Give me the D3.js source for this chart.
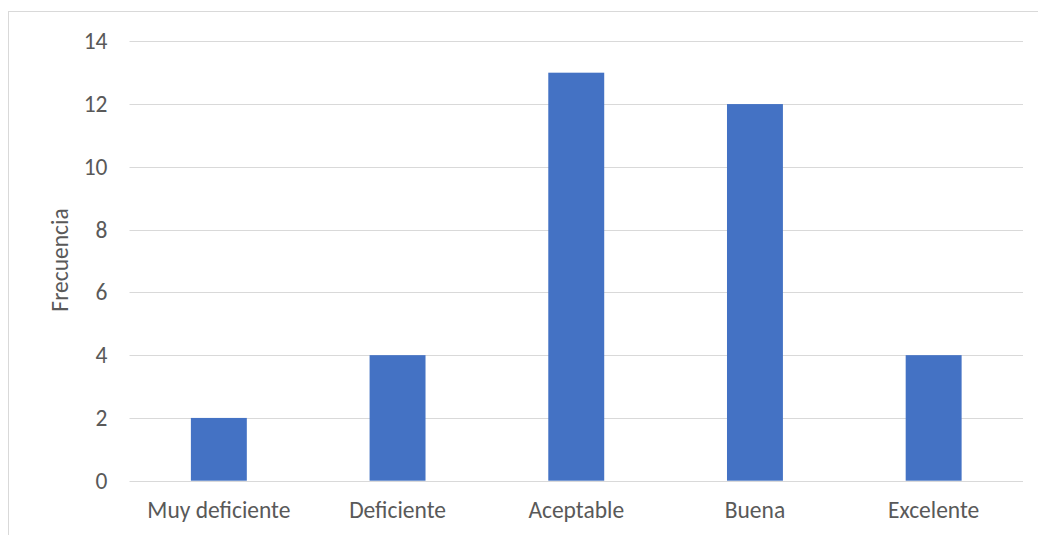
<!DOCTYPE html>
<html>
<head>
<meta charset="utf-8">
<script src="https://cdn.jsdelivr.net/npm/d3@7"></script>
<style>
html,body{margin:0;padding:0;background:#fff;}
svg{display:block;}
text{font-family:Carlito,"Open Sans","Liberation Sans",sans-serif;fill:#595959;}
</style>
</head>
<body>
<svg id="chart" width="1038" height="535"></svg>
<script>
const categories = ["Muy deficiente","Deficiente","Aceptable","Buena","Excelente"];
const values = [2,4,13,12,4];
const yTicks = [0,2,4,6,8,10,12,14];
const yTitle = "Frecuencia";

const svg = d3.select("#chart");
const W = 1038, H = 535;
const m = {left:129.5, right:15, top:41.3, bottom:54.3};
const FS = "23.5px";
const FF = "Carlito,'Open Sans','Liberation Sans',sans-serif";

// chart border
svg.append("rect").attr("x",8.5).attr("y",11.5).attr("width",1040).attr("height",540)
  .attr("fill","none").attr("stroke","#d9d9d9").attr("stroke-width",1);

const x = d3.scaleBand().domain(categories).range([m.left, W-m.right]).paddingInner(0.687).paddingOuter(0.3435);
const y = d3.scaleLinear().domain([0,14]).range([H-m.bottom, m.top]);

// gridlines
svg.append("g").selectAll("line").data(yTicks).join("line")
  .attr("x1",m.left).attr("x2",W-m.right)
  .attr("y1",d=>Math.round(y(d))+0.5).attr("y2",d=>Math.round(y(d))+0.5)
  .attr("stroke","#d9d9d9").attr("stroke-width",1);

// y axis labels
const yAxis = d3.axisLeft(y).tickValues(yTicks).tickSize(0).tickPadding(22);
const ga = svg.append("g").attr("transform",`translate(${m.left},0)`).call(yAxis);
ga.select(".domain").remove();
ga.selectAll("text").style("font-size",FS).attr("fill","#595959").style("font-family",FF);

// bars
svg.append("g").selectAll("rect").data(values).join("rect")
  .attr("x",(d,i)=>x(categories[i]))
  .attr("width",x.bandwidth())
  .attr("y",d=>y(d))
  .attr("height",d=>y(0)-y(d))
  .attr("fill","#4472c4");

// x labels
const xAxis = d3.axisBottom(x).tickSize(0).tickPadding(21);
const gx = svg.append("g").attr("transform",`translate(0,${H-m.bottom})`).call(xAxis);
gx.select(".domain").remove();
gx.selectAll("text").style("font-size",FS).attr("fill","#595959").style("font-family",FF);

// y title
svg.append("text").attr("transform",`translate(68,260) rotate(-90)`)
  .attr("text-anchor","middle").style("font-size",FS).style("font-family",FF).text(yTitle);
</script>
</body>
</html>
